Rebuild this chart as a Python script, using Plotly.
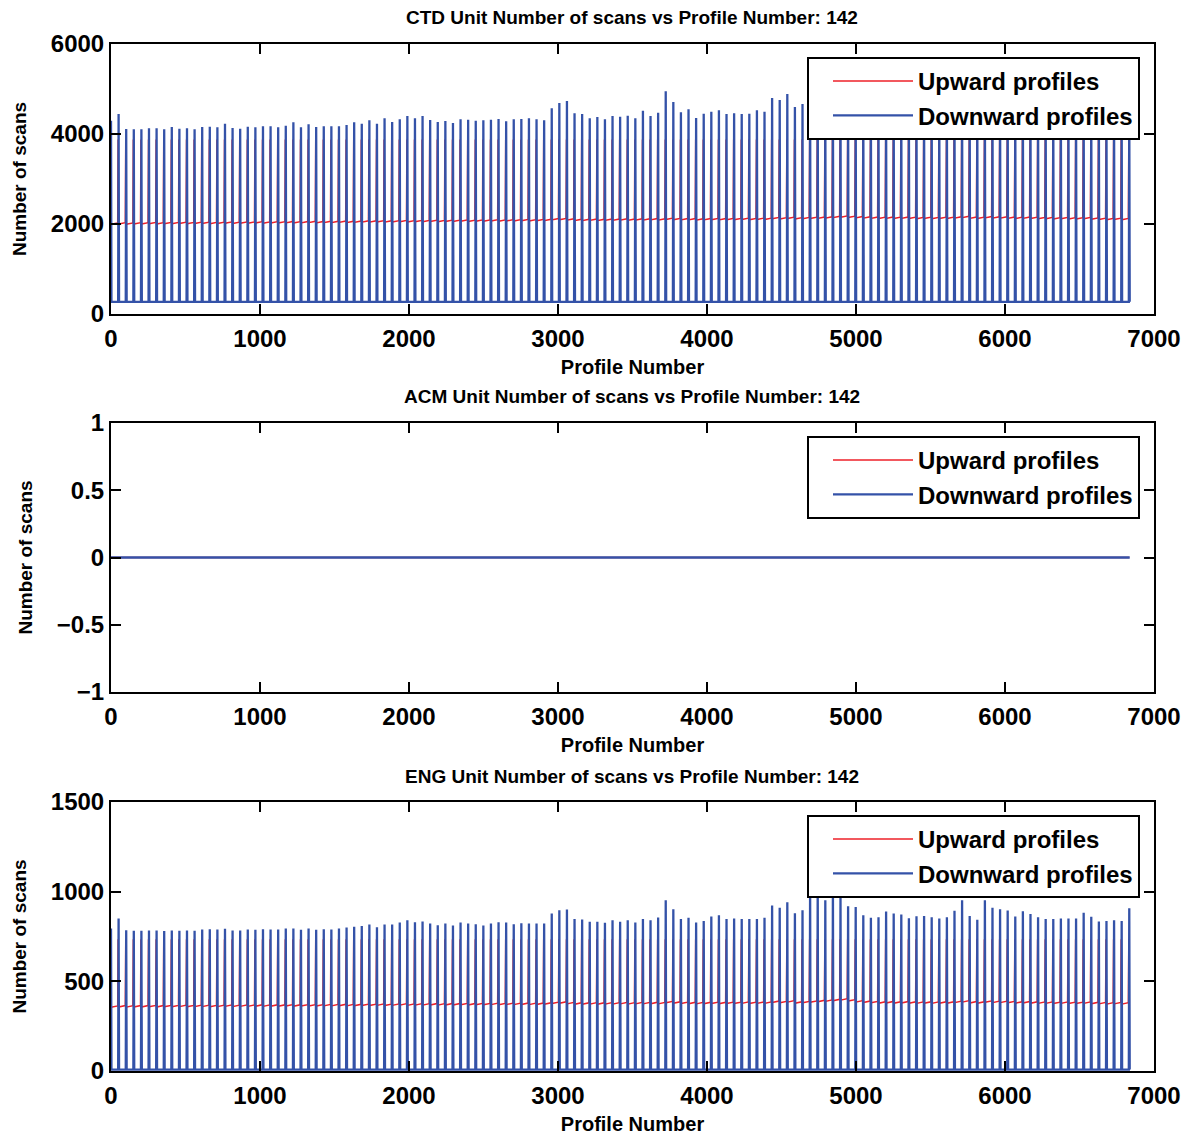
import numpy as np
import plotly.graph_objects as go

# ---------------------------------------------------------------------------
# Data: per-cast values along the profile-number axis
# ---------------------------------------------------------------------------
n_casts = 135
profile_step = 51                      # profile numbers between consecutive casts
cast_profile = [profile_step * k for k in range(n_casts)]

# CTD unit: downward-profile scan counts at each cast
ctd_down_peak = [
    4296, 4444, 4111, 4104, 4104, 4126, 4126, 4104, 4156, 4119,
    4126, 4104, 4156, 4163, 4148, 4230, 4133, 4119, 4163, 4148,
    4170, 4170, 4148, 4185, 4259, 4148, 4215, 4156, 4170, 4170,
    4170, 4200, 4259, 4230, 4304, 4230, 4348, 4267, 4326, 4400,
    4348, 4400, 4311, 4267, 4289, 4244, 4326, 4319, 4296, 4304,
    4319, 4333, 4281, 4326, 4333, 4348, 4326, 4304, 4570, 4689,
    4733, 4459, 4444, 4348, 4378, 4326, 4400, 4385, 4407, 4348,
    4518, 4400, 4474, 4948, 4711, 4481, 4548, 4356, 4452, 4496,
    4526, 4444, 4459, 4444, 4452, 4526, 4496, 4800, 4756, 4889,
    4600, 4667, 4850, 4900, 4700, 4880, 4800, 4600, 4580, 4500,
    4450, 4470, 4550, 4520, 4500, 4450, 4480, 4490, 4470, 4440,
    4470, 4560, 4700, 4490, 4420, 4700, 4600, 4580, 4560, 4480,
    4560, 4520, 4470, 4430, 4420, 4440, 4440, 4440, 4530, 4470,
    4380, 4390, 4400, 4390, 4580,
]
ctd_down_base = 270

# CTD unit: upward-profile scan counts between casts
ctd_up_level = [
    1995, 2000, 1995, 2000, 2000, 2005, 2000, 2005, 2005, 2010, 2005, 2010, 2010, 2005, 2010,
    2015, 2010, 2015, 2015, 2020, 2015, 2020, 2020, 2025, 2020, 2025, 2030, 2025, 2030, 2030,
    2035, 2030, 2035, 2040, 2040, 2045, 2040, 2045, 2050, 2045, 2050, 2050, 2055, 2050, 2055,
    2055, 2060, 2055, 2060, 2060, 2065, 2060, 2065, 2065, 2070, 2065, 2070, 2075, 2090, 2095,
    2085, 2075, 2075, 2080, 2075, 2080, 2080, 2085, 2080, 2085, 2085, 2090, 2085, 2100, 2095,
    2090, 2090, 2085, 2090, 2095, 2090, 2095, 2095, 2100, 2095, 2100, 2100, 2115, 2110, 2120,
    2110, 2115, 2120, 2125, 2130, 2140, 2150, 2145, 2135, 2130, 2125, 2120, 2125, 2120, 2125,
    2120, 2115, 2120, 2115, 2120, 2120, 2130, 2140, 2125, 2120, 2135, 2130, 2130, 2125, 2120,
    2125, 2120, 2115, 2115, 2110, 2115, 2110, 2110, 2115, 2105, 2100, 2095, 2100, 2095, 2100,
]
ctd_up_rise = 30
ctd_up_peak = 3880

# ACM unit: no scans recorded
acm_down_peak = [0] * n_casts
acm_down_base = 0
acm_up_level = [0] * n_casts
acm_up_rise = 0
acm_up_peak = 0

# ENG unit: downward-profile scan counts at each cast
eng_down_peak = [
    795, 851, 785, 782, 782, 783, 783, 780, 783, 782,
    783, 782, 789, 791, 789, 793, 783, 783, 789, 787,
    791, 789, 789, 795, 795, 787, 795, 787, 791, 789,
    795, 800, 804, 808, 817, 802, 817, 817, 828, 841,
    830, 834, 823, 813, 823, 811, 828, 823, 819, 811,
    823, 830, 828, 819, 824, 823, 823, 823, 878, 897,
    900, 847, 845, 832, 832, 826, 841, 832, 841, 828,
    847, 841, 856, 952, 902, 847, 854, 828, 837, 861,
    869, 847, 850, 847, 847, 847, 854, 923, 910, 941,
    880, 897, 1040, 1050, 952, 1030, 993, 919, 915, 869,
    854, 858, 889, 878, 873, 852, 863, 865, 858, 850,
    858, 893, 952, 865, 843, 952, 910, 902, 895, 861,
    891, 876, 858, 848, 847, 850, 850, 850, 882, 860,
    834, 836, 841, 836, 908,
]
eng_down_base = 8

# ENG unit: upward-profile scan counts between casts
eng_up_level = [
    355, 357, 356, 357, 357, 358, 357, 358, 358, 359, 358, 359, 359, 358, 359,
    360, 359, 360, 360, 361, 360, 361, 361, 362, 361, 362, 362, 362, 363, 363,
    364, 363, 364, 365, 365, 366, 365, 366, 367, 366, 367, 367, 368, 367, 368,
    368, 369, 368, 369, 369, 370, 369, 370, 370, 371, 370, 371, 372, 376, 378,
    374, 372, 372, 373, 372, 373, 373, 374, 373, 374, 374, 375, 374, 380, 378,
    376, 375, 374, 375, 376, 375, 376, 376, 377, 376, 377, 377, 382, 380, 384,
    378, 380, 383, 386, 388, 392, 395, 390, 384, 382, 380, 378, 379, 378, 379,
    378, 377, 378, 377, 378, 378, 381, 384, 379, 378, 383, 381, 381, 380, 378,
    379, 378, 377, 377, 376, 377, 376, 376, 377, 375, 374, 373, 374, 373, 375,
]
eng_up_rise = 8
eng_up_peak = 735

panel_titles = [
    "CTD Unit Number of scans vs Profile Number: 142",
    "ACM Unit Number of scans vs Profile Number: 142",
    "ENG Unit Number of scans vs Profile Number: 142",
]

ctd_ticks = [0, 2000, 4000, 6000]
acm_ticks = [-1, -0.5, 0, 0.5, 1]
eng_ticks = [0, 500, 1000, 1500]
profile_ticks = [0, 1000, 2000, 3000, 4000, 5000, 6000, 7000]

# ---------------------------------------------------------------------------
# Helpers that turn the per-cast values into line paths
# ---------------------------------------------------------------------------
def downward_path(pos, peaks, base):
    xs, ys = [], []
    for p, v in zip(pos, peaks):
        xs += [p - 3, p, p + 3]
        ys += [base, v, base]
    return xs, ys


def upward_path(pos, levels, rise, peak, off=-3):
    xs, ys = [], []
    for k, p in enumerate(pos):
        xs += [p + off, p + off + 3]
        ys += [peak, levels[k]]
        if k + 1 < len(pos):
            xs.append(pos[k + 1] + off - 3)
            ys.append(levels[k] + rise)
    return xs, ys


RED = "rgb(238,32,40)"
BLUE = "rgb(52,82,168)"
FONT = "Liberation Sans, Arial, sans-serif"

W, H = 1191, 1139
x_dom = [111 / W, 1154 / W]
panel_px = [(44, 314), (423, 692), (802, 1071)]
y_doms = [[1 - b / H, 1 - t / H] for t, b in panel_px]

panels = [
    dict(down=ctd_down_peak, base=ctd_down_base, up=ctd_up_level, rise=ctd_up_rise,
         peak=ctd_up_peak, yrange=[0, 6000], ticks=ctd_ticks),
    dict(down=acm_down_peak, base=acm_down_base, up=acm_up_level, rise=acm_up_rise,
         peak=acm_up_peak, yrange=[-1, 1], ticks=acm_ticks),
    dict(down=eng_down_peak, base=eng_down_base, up=eng_up_level, rise=eng_up_rise,
         peak=eng_up_peak, yrange=[0, 1500], ticks=eng_ticks),
]

fig = go.Figure()
layout = dict(
    template="none",
    width=W, height=H,
    margin=dict(l=0, r=0, t=0, b=0, autoexpand=False),
    paper_bgcolor="white", plot_bgcolor="white",
    font=dict(family=FONT, color="black"),
    annotations=[],
)

for i, pnl in enumerate(panels):
    n = "" if i == 0 else str(i + 1)
    leg = "legend" + n
    ux, uy = upward_path(cast_profile, pnl["up"], pnl["rise"], pnl["peak"])
    dx, dy = downward_path(cast_profile, pnl["down"], pnl["base"])
    fig.add_trace(go.Scatter(x=ux, y=uy, mode="lines", name="Upward profiles",
                             line=dict(color=RED, width=1.5),
                             xaxis="x" + n, yaxis="y" + n, legend=leg))
    fig.add_trace(go.Scatter(x=dx, y=dy, mode="lines", name="Downward profiles",
                             line=dict(color=BLUE, width=2.3),
                             xaxis="x" + n, yaxis="y" + n, legend=leg))

    axis_common = dict(
        showline=True, linecolor="black", linewidth=2, mirror="allticks",
        ticks="inside", ticklen=10, tickwidth=2, tickcolor="black",
        showgrid=False, zeroline=False, automargin=False,
        tickfont=dict(family=FONT, size=24, color="black", weight="bold"),
    )
    layout["xaxis" + n] = dict(
        axis_common, domain=x_dom, range=[0, 7000],
        tickmode="array", tickvals=profile_ticks, ticklabelstandoff=2,
        anchor="y" + n,
        title=dict(text="Profile Number",
                   font=dict(family=FONT, size=20, weight="bold"), standoff=9),
    )
    layout["yaxis" + n] = dict(
        axis_common, domain=y_doms[i], range=pnl["yrange"],
        tickmode="array", tickvals=pnl["ticks"],
        anchor="x" + n,
        title=dict(text="Number of scans",
                   font=dict(family=FONT, size=19, weight="bold"), standoff=19),
    )
    top_px = panel_px[i][0]
    layout[leg] = dict(
        x=1140 / W, y=1 - (top_px + 13) / H, xanchor="right", yanchor="top",
        bgcolor="white", bordercolor="black", borderwidth=2,
        font=dict(family=FONT, size=24, color="black", weight="bold"),
        itemwidth=80, tracegroupgap=0, indentation=19,
    )
    layout["annotations"].append(dict(
        text=panel_titles[i], x=632 / W, y=1 - (top_px - 26) / H,
        xref="paper", yref="paper", xanchor="center", yanchor="middle",
        showarrow=False, font=dict(family=FONT, size=19, color="black", weight="bold"),
    ))

fig.update_layout(**layout)
fig.write_html("out.html")
